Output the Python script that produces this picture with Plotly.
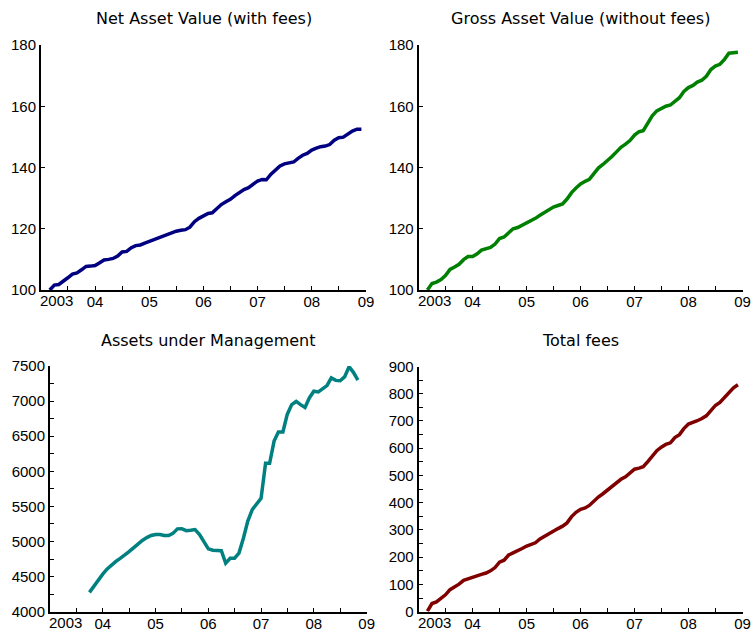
import pandas as pd
import plotly.graph_objects as go

# ---- data ----
start_main, end_main = "2003-03-01", "2008-12-01"
start_aum, end_aum = "2003-10-01", "2008-11-01"

nav = [100.0, 101.6, 101.8, 102.8, 104.0, 105.2, 105.6, 106.6, 107.7, 107.8,
       108.0, 108.9, 109.8, 110.0, 110.3, 111.1, 112.4, 112.6, 113.8, 114.5,
       114.7, 115.3, 115.9, 116.3, 116.8, 117.5, 118.0, 118.6, 119.2, 119.5,
       119.7, 120.5, 122.3, 123.4, 124.2, 125.0, 125.2, 126.6, 127.9, 128.8,
       129.6, 130.8, 131.9, 132.8, 133.4, 134.4, 135.6, 136.1, 136.0, 137.8,
       139.3, 140.5, 141.2, 141.4, 141.8, 143.0, 144.0, 144.6, 145.7, 146.3,
       146.8, 147.0, 147.5, 148.9, 149.7, 149.9, 150.9, 151.9, 152.5, 152.5]

gross = [100.0, 102.1, 102.6, 103.4, 104.7, 106.7, 107.5, 108.4, 109.9, 110.9,
         110.9, 111.8, 113.0, 113.5, 113.9, 115.0, 116.8, 117.3, 118.7, 120.0,
         120.4, 121.1, 122.1, 122.7, 123.4, 124.4, 125.3, 126.0, 127.1, 127.6,
         128.1, 129.7, 131.8, 133.3, 134.6, 135.5, 136.1, 138.0, 139.8, 141.0,
         142.2, 143.6, 145.1, 146.6, 147.6, 148.8, 150.6, 151.7, 152.0, 154.4,
         156.9, 158.5, 159.4, 160.0, 160.4, 161.7, 162.8, 164.8, 166.1, 166.8,
         167.9, 168.5, 169.8, 172.0, 173.1, 173.7, 175.3, 177.3, 177.6, 177.6]

aum = [4275, 4365, 4450, 4535, 4610, 4665, 4716, 4760, 4805, 4855,
       4910, 4965, 5015, 5055, 5085, 5100, 5100, 5085, 5085, 5115,
       5180, 5183, 5155, 5160, 5170, 5100, 4990, 4895, 4875, 4875,
       4870, 4690, 4760, 4760, 4835, 5050, 5290, 5455, 5525, 5615,
       6113, 6113, 6430, 6560, 6560, 6810, 6950, 6995, 6950, 6910,
       7045, 7140, 7130, 7170, 7220, 7330, 7295, 7290, 7345, 7490,
       7410, 7300]

fees = [2, 30, 36, 48, 62, 81, 90, 101, 115, 121,
        125, 131, 137, 142, 150, 162, 182, 189, 208, 216,
        223, 232, 241, 246, 253, 267, 277, 288, 297, 305,
        314, 326, 349, 365, 376, 381, 390, 407, 421, 433,
        446, 461, 474, 486, 495, 508, 523, 527, 532, 551,
        573, 591, 604, 614, 620, 639, 650, 672, 689, 694,
        701, 709, 719, 738, 757, 768, 785, 806, 822, 833]

titles = ["Net Asset Value (with fees)", "Gross Asset Value (without fees)",
          "Assets under Management", "Total fees"]
colors = ["#000080", "#008000", "#008080", "#800000"]

year_ticks = ["2004-01-01", "2005-01-01", "2006-01-01", "2007-01-01", "2008-01-01", "2009-01-01"]
year_labels = ["04", "05", "06", "07", "08", "09"]
half_ticks = ["2003-07-01", "2004-07-01", "2005-07-01", "2006-07-01", "2007-07-01", "2008-07-01"]
first_label = "2003"

y_ranges = [[100, 180], [100, 180], [4000, 7500], [0, 900]]
y_dticks = [20, 20, 500, 100]
y_minor = [20, 20, 250, 50]

dates_main = pd.date_range(start_main, end_main, freq="MS")
dates_aum = pd.date_range(start_aum, end_aum, freq="MS")
series = [(dates_main, nav), (dates_main, gross), (dates_aum, aum), (dates_main, fees)]

# ---- layout geometry (page pixels) ----
W, H = 752, 632
px_x = [(41, 366), (418.7, 742.5), (50, 366.7), (418.7, 742.5)]
px_y = [(45, 290), (45, 290), (366, 611.7), (366.5, 611.7)]
title_y = [18, 18, 340, 340]

fig = go.Figure()
TICKFONT = dict(family="Liberation Sans, Arial, sans-serif", size=15, color="black")
TITLEFONT = dict(family="DejaVu Sans, sans-serif", size=16, color="black")

for i, ((d, v), col) in enumerate(zip(series, colors)):
    k = "" if i == 0 else str(i + 1)
    fig.add_trace(go.Scatter(x=d, y=v, mode="lines", line=dict(color=col, width=3.5),
                             xaxis="x" + k, yaxis="y" + k, showlegend=False,
                             hoverinfo="x+y"))
    x0, x1 = px_x[i]
    y0, y1 = px_y[i]
    fig.layout["xaxis" + k] = dict(
        domain=[x0 / W, x1 / W], anchor="y" + k, type="date",
        range=["2003-01-01", "2009-01-01"], automargin=False,
        tickmode="array", tickvals=year_ticks, ticktext=year_labels,
        ticks="inside", ticklen=4, tickwidth=1, tickcolor="black",
        minor=dict(tickmode="array", tickvals=half_ticks, ticks="inside",
                   ticklen=4, tickwidth=1, tickcolor="black"),
        showline=True, linecolor="black", linewidth=2,
        showgrid=False, zeroline=False, tickfont=TICKFONT,
        ticklabelstandoff=-3, ticklabeloverflow="allow",
    )
    fig.layout["yaxis" + k] = dict(
        domain=[1 - y1 / H, 1 - y0 / H], anchor="x" + k, automargin=False,
        range=y_ranges[i], tick0=y_ranges[i][0], dtick=y_dticks[i],
        ticks="inside", ticklen=4, tickwidth=1, tickcolor="black",
        minor=dict(dtick=y_minor[i], tick0=y_ranges[i][0], ticks="inside",
                   ticklen=4, tickwidth=1, tickcolor="black"),
        showline=True, linecolor="black", linewidth=2,
        showgrid=False, zeroline=False, tickfont=TICKFONT,
        ticklabelstandoff=0,
    )
    # subplot title
    fig.add_annotation(text=titles[i], x=(x0 + x1) / 2 / W, y=1 - title_y[i] / H,
                       xref="paper", yref="paper", showarrow=False,
                       xanchor="center", yanchor="middle", font=TITLEFONT)
    # first year label, left-aligned at the axis start
    fig.add_annotation(text=first_label, x="2003-01-01", y=0,
                       xref="x" + k, yref=("y" + k) + " domain", showarrow=False,
                       xanchor="left", yanchor="top", yshift=-1, xshift=-2,
                       font=TICKFONT, borderpad=0)

fig.update_layout(width=W, height=H, margin=dict(l=0, r=0, t=0, b=0, pad=0),
                  plot_bgcolor="white", paper_bgcolor="white")
# remove the browser's default 8px body margin so the figure sits at the page origin
fig.write_html("out.html", config={"displayModeBar": False},
               post_script="document.body.style.margin='0';document.body.style.overflow='hidden';")
